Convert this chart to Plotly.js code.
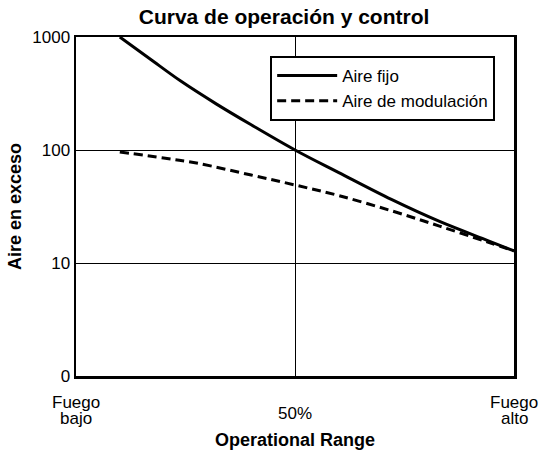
<!DOCTYPE html>
<html>
<head>
<meta charset="utf-8">
<script src="https://cdn.plot.ly/plotly-3.0.1.min.js"></script>
<style>html,body{margin:0;padding:0;background:#fff;}</style>
</head>
<body>
<div id="chart" style="width:539px;height:450px;"></div>
<script>
// Operational range (% of firing range)
const xFijo = [10, 17, 24, 32, 40, 50, 60, 72, 83, 94, 100];
const aireFijo = [1000, 635, 405, 256, 167, 100, 63, 36.5, 23.3, 15.8, 12.8];
const xMod = [10, 20, 28, 40, 50, 60, 72, 83, 94, 100];
const aireModulacion = [96, 85, 76, 60, 49, 39.5, 29, 21.2, 15.3, 12.8];

const yTickVals = [1, 10, 100, 1000];
const yTickText = ['0', '10', '100', '1000'];
const xTickVals = [0, 50, 100];
const xTickLines = [['Fuego', 'bajo'], ['50%'], ['Fuego', 'alto']];

const FONT = 'Liberation Sans, Arial, sans-serif';
const TICK = 17;

const traces = [
  {x: xFijo, y: aireFijo, name: 'Aire fijo', mode: 'lines',
   line: {color: '#000', width: 3, shape: 'spline', smoothing: 1}},
  {x: xMod, y: aireModulacion, name: 'Aire de modulación', mode: 'lines',
   line: {color: '#000', width: 3, dash: '9px,5px', shape: 'spline', smoothing: 1}}
];

const annotations = [];
xTickVals.forEach((v, i) => {
  const lines = xTickLines[i];
  const f = {family: FONT, size: TICK, color: '#000'};
  if (lines.length === 1) {
    annotations.push({x: v, xref: 'x', y: -0.11, yref: 'paper', text: lines[0],
      showarrow: false, xanchor: 'center', yanchor: 'middle', font: f});
  } else {
    annotations.push({x: v, xref: 'x', y: -0.077, yref: 'paper', text: lines[0],
      showarrow: false, xanchor: 'center', yanchor: 'middle', font: f});
    annotations.push({x: v, xref: 'x', y: -0.124, yref: 'paper', text: lines[1],
      showarrow: false, xanchor: 'center', yanchor: 'middle', font: f});
  }
});

const layout = {
  width: 539, height: 450,
  margin: {l: 76, r: 25, t: 37, b: 74},
  paper_bgcolor: '#fff', plot_bgcolor: '#fff',
  font: {family: FONT, color: '#000', size: TICK},
  title: {text: '<b>Curva de operación y control</b>', font: {family: FONT, size: 21, color: '#000'},
    x: 0.527, xanchor: 'center', xref: 'container', y: 0.962, yanchor: 'middle', yref: 'container'},
  showlegend: true,
  legend: {x: 0.957, xanchor: 'right', y: 0.944, yanchor: 'top',
    bordercolor: '#000', borderwidth: 2, bgcolor: '#fff', itemwidth: 60,
    font: {family: FONT, size: 17, color: '#000'}, tracegroupgap: 0},
  xaxis: {range: [0, 100], tickvals: xTickVals, showticklabels: false,
    showgrid: true, gridcolor: '#000', gridwidth: 1, zeroline: false,
    showline: true, mirror: true, linecolor: '#000', linewidth: 2.5, ticks: '',
    title: {text: '<b>Operational Range</b>', font: {family: FONT, size: 18, color: '#000'}, standoff: 58}},
  yaxis: {type: 'log', range: [0, 3], tickvals: yTickVals, ticktext: yTickText,
    showgrid: true, gridcolor: '#000', gridwidth: 1, zeroline: false,
    showline: true, mirror: true, linecolor: '#000', linewidth: 2.5, ticks: '',
    tickfont: {family: FONT, size: TICK, color: '#000'},
    title: {text: '<b>Aire en exceso</b>', font: {family: FONT, size: 18, color: '#000'}, standoff: 6}},
  annotations: annotations
};

Plotly.newPlot('chart', traces, layout, {displayModeBar: false, staticPlot: true});
</script>
</body>
</html>
